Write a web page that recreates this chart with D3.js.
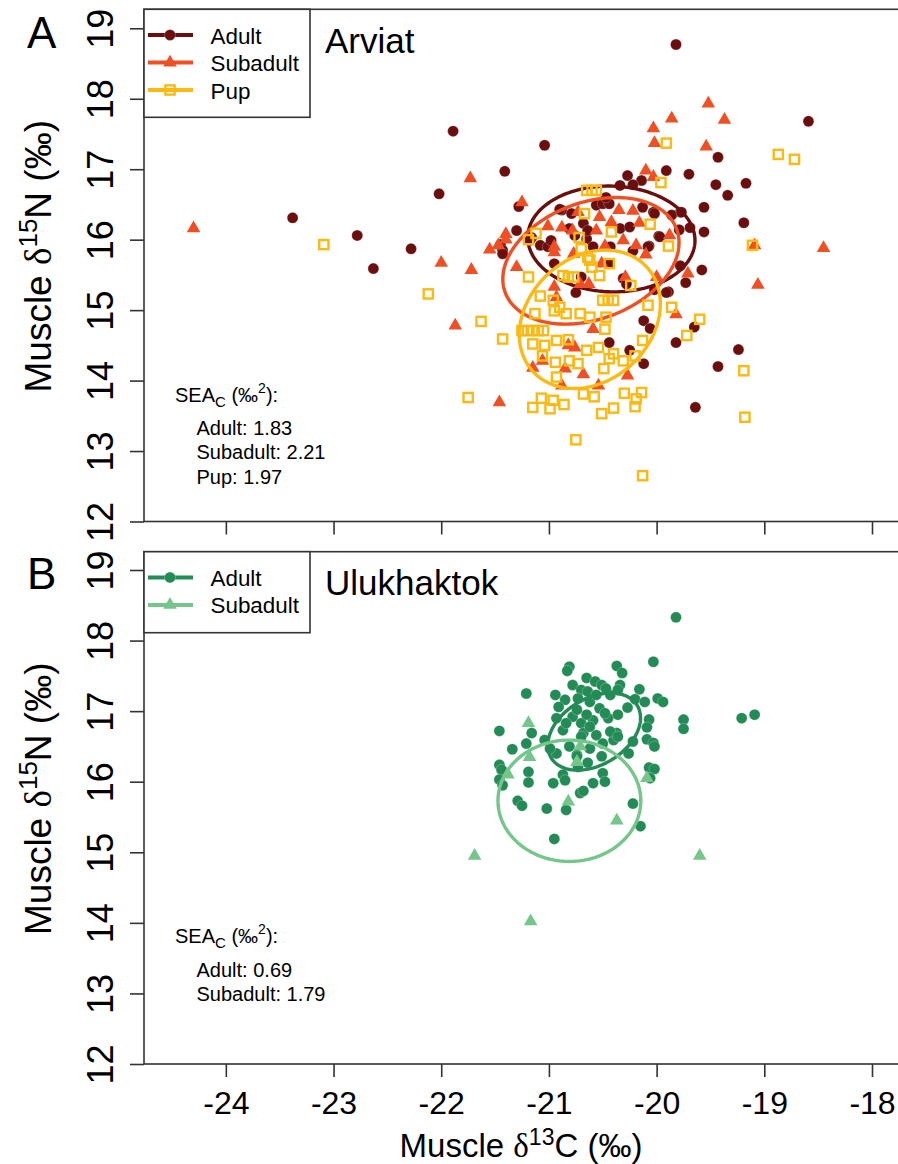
<!DOCTYPE html>
<html>
<head>
<meta charset="utf-8">
<script src="https://cdn.jsdelivr.net/npm/d3@7"></script>
<style>
  html, body { margin: 0; padding: 0; background: #fff; }
  svg { display: block; }
</style>
</head>
<body>
<svg id="chart"></svg>
<script>
// ---- data ----
const xTicks = [-24, -23, -22, -21, -20, -19, -18];
const yTicks = [12, 13, 14, 15, 16, 17, 18, 19];

const groupsA = ["Adult", "Subadult", "Pup"];
const groupsB = ["Adult", "Subadult"];

// Arviat, [d13C, d15N]
const arviatAdult = [
  [-19.82,18.77],[-21.89,17.54],[-21.04,17.34],[-18.59,17.68],[-19.43,17.17],[-21.41,16.97],
  [-22.02,16.65],[-23.38,16.31],[-22.78,16.06],[-22.63,15.59],[-22.28,15.87],[-19.91,16.98],
  [-19.70,16.93],[-19.45,16.78],[-19.17,16.80],[-19.34,16.63],[-19.56,16.46],[-19.19,16.24],
  [-19.69,16.17],[-19.56,16.11],[-19.78,16.39],[-19.98,16.05],[-20.07,15.91],[-19.58,15.57],
  [-19.78,15.63],[-19.73,15.39],[-19.89,15.26],[-19.65,14.76],[-19.82,14.54],[-19.24,14.44],
  [-19.43,14.20],[-19.64,13.62],[-20.12,14.85],[-20.06,14.74],[-20.12,14.24],[-21.28,16.47],
  [-21.30,16.13],[-21.45,15.93],[-20.27,16.91],[-20.14,16.84],[-20.22,16.78],[-20.34,16.77],
  [-20.88,16.42],[-20.56,16.49],[-20.47,16.53],[-20.13,16.46],[-20.03,16.39],[-19.97,16.04],
  [-19.86,16.35],[-19.77,16.39],[-19.79,16.14],[-21.43,15.85],[-21.16,16.03],[-21.08,15.92],
  [-21.01,15.90],[-20.76,16.06],[-20.65,16.01],[-20.34,16.16],[-20.08,15.90],[-20.22,15.84],
  [-20.43,15.90],[-20.95,15.66],[-20.44,15.66],[-20.70,15.47],[-20.75,15.25],[-20.31,15.45],
  [-20.28,15.37],[-20.02,15.29],[-19.91,15.25],[-20.44,14.54],[-20.25,14.43],[-20.90,16.43],
  [-20.79,16.37],[-20.50,16.51],[-20.44,16.51],[-20.02,16.37],[-20.81,16.16],[-20.68,16.23],
  [-20.64,16.13],[-20.25,16.18],[-21.18,15.99],[-21.43,15.80],[-20.98,15.99],[-20.59,15.90],
  [-20.47,16.60]
];
const arviatSubadult = [
  [-24.30,16.16],[-22.00,15.67],[-21.87,14.78],[-19.52,17.93],[-19.86,17.72],[-19.37,17.70],
  [-20.03,17.58],[-20.02,17.37],[-19.54,17.32],[-20.10,16.98],[-20.03,16.89],[-19.09,15.92],
  [-18.45,15.88],[-19.71,15.52],[-19.06,15.36],[-19.82,14.94],[-21.73,16.87],[-21.25,16.53],
  [-21.55,15.86],[-21.40,16.08],[-21.72,15.57],[-20.73,16.39],[-20.53,16.32],[-20.35,16.42],
  [-20.22,16.41],[-20.16,16.24],[-19.88,16.06],[-21.01,16.19],[-20.88,16.17],[-20.95,15.90],
  [-20.78,16.13],[-20.56,16.13],[-20.31,15.99],[-20.19,15.92],[-20.10,15.79],[-20.48,15.91],
  [-20.51,15.66],[-20.95,15.82],[-21.30,15.61],[-21.40,16.00],[-21.47,15.92],[-20.63,15.37],
  [-20.29,15.47],[-20.95,15.33],[-20.93,15.18],[-20.59,14.73],[-21.06,14.28],[-20.82,14.50],
  [-20.76,14.47],[-21.15,14.18],[-20.85,14.17],[-20.68,14.09],[-20.88,13.93],[-20.54,13.93],
  [-20.27,14.07],[-21.46,13.69],[-20.42,16.25],[-20.77,15.80],[-20.00,15.47],[-20.71,15.37]
];
const arviatPup = [
  [-23.09,15.93],[-22.12,15.23],[-19.91,17.37],[-18.87,17.21],[-18.72,17.14],[-19.96,16.81],
  [-19.11,15.92],[-19.89,15.91],[-20.08,15.07],[-19.86,15.04],[-19.60,14.87],[-19.72,14.64],
  [-19.19,14.14],[-19.18,13.48],[-20.13,14.57],[-20.14,13.83],[-20.65,16.70],[-20.60,16.70],
  [-20.56,16.70],[-20.67,16.37],[-20.06,16.22],[-21.12,16.09],[-21.19,16.00],[-20.72,16.03],
  [-20.42,16.11],[-20.62,15.71],[-20.60,15.61],[-20.44,15.66],[-21.19,15.47],[-20.87,15.49],
  [-20.82,15.47],[-20.77,15.47],[-20.53,15.49],[-20.24,15.35],[-21.63,14.84],[-21.08,15.20],
  [-20.96,15.14],[-20.90,15.04],[-20.95,14.99],[-20.84,14.95],[-20.71,14.95],[-20.62,14.90],
  [-20.50,15.14],[-20.45,15.14],[-20.40,15.14],[-20.47,14.90],[-20.48,14.73],[-21.13,14.95],
  [-21.43,14.59],[-21.25,14.71],[-21.20,14.71],[-21.15,14.71],[-21.10,14.71],[-21.05,14.71],
  [-21.15,14.52],[-21.04,14.50],[-21.06,14.35],[-20.93,14.57],[-20.82,14.58],[-20.65,14.43],
  [-20.54,14.47],[-20.40,14.38],[-20.44,14.31],[-20.31,14.28],[-20.20,14.35],[-20.94,14.26],
  [-20.81,14.28],[-20.73,14.24],[-20.49,14.17],[-20.93,14.05],[-20.68,13.81],[-20.58,13.77],
  [-20.30,13.82],[-20.19,13.74],[-20.20,13.63],[-21.75,13.76],[-21.07,13.75],[-20.96,13.72],
  [-21.15,13.62],[-20.99,13.60],[-20.86,13.66],[-20.51,13.53],[-20.40,13.61],[-20.75,13.16],
  [-20.13,12.65],[-20.70,15.87],[-20.64,15.75]
];

// Ulukhaktok
const ulukAdult = [
  [-19.82,18.33],[-20.03,17.70],[-20.81,17.63],[-20.83,17.57],[-20.37,17.64],[-20.32,17.54],
  [-21.21,17.25],[-20.65,17.47],[-20.57,17.42],[-20.51,17.37],[-20.78,17.37],[-20.70,17.30],
  [-20.34,17.37],[-20.16,17.31],[-20.94,17.23],[-20.85,17.16],[-20.64,17.28],[-20.73,17.18],
  [-20.43,17.23],[-20.36,17.30],[-19.99,17.18],[-19.94,17.13],[-20.20,17.17],[-20.11,17.13],
  [-20.91,17.06],[-20.62,17.13],[-20.53,17.04],[-20.27,17.05],[-19.75,16.88],[-19.75,16.75],
  [-19.21,16.90],[-19.09,16.95],[-21.46,16.72],[-20.93,16.90],[-20.78,16.92],[-20.70,16.83],
  [-20.59,16.87],[-20.45,16.90],[-20.36,16.95],[-20.07,16.88],[-20.09,16.77],[-20.87,16.73],
  [-20.68,16.69],[-20.56,16.66],[-20.37,16.69],[-21.16,16.69],[-21.21,16.54],[-21.04,16.59],
  [-20.50,16.54],[-20.40,16.59],[-20.09,16.60],[-20.03,16.55],[-20.02,16.50],[-20.22,16.57],
  [-21.34,16.46],[-20.93,16.40],[-20.74,16.38],[-20.62,16.47],[-20.26,16.40],[-21.46,16.24],
  [-21.44,16.17],[-21.46,16.03],[-21.43,15.95],[-21.19,16.14],[-21.19,15.99],[-20.87,16.10],
  [-20.85,16.02],[-20.64,16.27],[-20.50,16.12],[-20.48,16.00],[-20.07,16.20],[-20.02,16.18],
  [-20.06,16.05],[-20.96,15.98],[-20.59,15.98],[-20.71,15.84],[-20.68,15.87],[-21.29,15.73],
  [-21.25,15.66],[-21.02,15.62],[-20.84,15.60],[-20.22,15.69],[-20.15,15.37],[-20.95,15.19],
  [-20.74,17.02],[-20.65,16.95],[-20.48,16.97],[-20.62,16.78],[-20.43,16.71],[-20.36,16.64],
  [-20.70,16.64],[-20.81,16.50],[-20.74,16.36],[-20.51,16.36],[-20.73,16.21],[-20.84,16.83],
  [-20.56,17.23],[-20.47,17.32],[-20.99,16.47]
];
const ulukSubadult = [
  [-21.19,16.83],[-21.18,16.35],[-21.38,16.10],[-20.71,16.50],[-20.74,16.28],[-20.09,16.05],
  [-20.82,15.72],[-20.37,15.45],[-21.69,14.95],[-19.60,14.95],[-21.17,14.02]
];

// standard ellipses: centre, semi-axes (permil), rotation (deg)
const ellipsesA = [
  { group: "Adult",    cx: -20.42, cy: 16.01, a: 0.78, b: 0.747, angle: -20 },
  { group: "Subadult", cx: -20.61, cy: 15.70, a: 0.98, b: 0.718, angle: 54 },
  { group: "Pup",      cx: -20.62, cy: 14.87, a: 1.00, b: 0.627, angle: 76 }
];
const ellipsesB = [
  { group: "Adult",    cx: -20.58, cy: 16.71, a: 0.586, b: 0.375, angle: 62 },
  { group: "Subadult", cx: -20.81, cy: 15.73, a: 0.86,  b: 0.663, angle: 90 }
];

const seaA = ["Adult: 1.83", "Subadult: 2.21", "Pup: 1.97"];
const seaB = ["Adult: 0.69", "Subadult: 1.79"];

// ---- drawing ----
const W = 898, H = 1164;
const FONT = "'Liberation Sans', Arial, Helvetica, sans-serif";
const SERIF = "'Liberation Serif', 'DejaVu Serif', serif";
const AXIS_COL = "#333";

const colors = {
  A: { Adult: "#6b0e0e", Subadult: "#f04e23", Pup: "#fdb913" },
  B: { Adult: "#238b55", Subadult: "#74c68a" }
};
const shapes = { Adult: "circle", Subadult: "triangle", Pup: "square" };

const svg = d3.select("#chart").attr("width", W).attr("height", H)
  .style("font-family", FONT);

const x = d3.scaleLinear().domain([-24.76, -17.74]).range([144, 900]);

const panels = [
  { key: "A", site: "Arviat", top: 9.3, yRange: [521.5, 28.3], groups: groupsA,
    data: { Adult: arviatAdult, Subadult: arviatSubadult, Pup: arviatPup },
    ellipses: ellipsesA, sea: seaA, seaY: 401.7, labels: false },
  { key: "B", site: "Ulukhaktok", top: 551.7, yRange: [1064, 570], groups: groupsB,
    data: { Adult: ulukAdult, Subadult: ulukSubadult },
    ellipses: ellipsesB, sea: seaB, seaY: 943.3, labels: true }
];

function drawMarker(g, shape, color, px, py) {
  if (shape === "circle") {
    g.append("circle").attr("cx", px).attr("cy", py).attr("r", 5.5)
      .attr("fill", color).attr("stroke", "#fff").attr("stroke-opacity", 0.35).attr("stroke-width", 0.7);
  } else if (shape === "triangle") {
    g.append("path").attr("transform", `translate(${px},${py})`)
      .attr("d", d3.symbol(d3.symbolTriangle, 80)()).attr("fill", color);
  } else {
    g.append("rect").attr("x", px - 4.6).attr("y", py - 4.6).attr("width", 9.2).attr("height", 9.2)
      .attr("fill", "none").attr("stroke", color).attr("stroke-width", 2.4);
  }
}

function ellipsePoints(e) {
  const t = e.angle * Math.PI / 180;
  return d3.range(0, 2 * Math.PI, Math.PI / 90).map(u => [
    e.cx + e.a * Math.cos(u) * Math.cos(t) - e.b * Math.sin(u) * Math.sin(t),
    e.cy + e.a * Math.cos(u) * Math.sin(t) + e.b * Math.sin(u) * Math.cos(t)
  ]);
}

panels.forEach(p => {
  const y = d3.scaleLinear().domain([12, 19]).range(p.yRange);
  const bottom = p.yRange[0];
  const g = svg.append("g");
  const pal = colors[p.key];

  // points + ellipses, group by group
  const line = d3.line().x(d => x(d[0])).y(d => y(d[1])).curve(d3.curveLinearClosed);
  p.groups.forEach(name => {
    const mg = g.append("g");
    p.data[name].forEach(d => drawMarker(mg, shapes[name], pal[name], x(d[0]), y(d[1])));
    const e = p.ellipses.find(e => e.group === name);
    g.append("path").attr("d", line(ellipsePoints(e)))
      .attr("fill", "none").attr("stroke", pal[name]).attr("stroke-width", 3.4);
  });

  // frame
  g.append("rect").attr("x", 144).attr("y", p.top).attr("width", 900 - 144).attr("height", bottom - p.top)
    .attr("fill", "none").attr("stroke", AXIS_COL).attr("stroke-width", 1.6);

  // x axis
  const xa = g.append("g").attr("transform", `translate(0,${bottom})`)
    .call(d3.axisBottom(x).tickValues(xTicks).tickSize(13).tickSizeOuter(0).tickPadding(14));
  xa.select(".domain").remove();
  xa.selectAll("line").attr("stroke", AXIS_COL).attr("stroke-width", 1.6);
  xa.selectAll("text").attr("font-size", 32).attr("font-family", FONT).attr("fill", "#000")
    .text(d => p.labels ? String(d) : "");

  // y axis
  const ya = g.append("g").attr("transform", "translate(144,0)")
    .call(d3.axisLeft(y).tickValues(yTicks).tickSize(14).tickSizeOuter(0).tickFormat(d3.format("d")));
  ya.select(".domain").remove();
  ya.selectAll("line").attr("stroke", AXIS_COL).attr("stroke-width", 1.6);
  ya.selectAll("text").attr("x", null).attr("dy", null).attr("y", 0)
    .attr("text-anchor", "middle").attr("transform", "translate(-31,0) rotate(-90)")
    .attr("font-size", 36).attr("font-family", FONT).attr("fill", "#000");

  // y title, starts just above the bottom of the frame and reads upward
  const yt = g.append("text").attr("transform", `translate(51,${bottom - 129}) rotate(-90)`)
    .attr("text-anchor", "start").attr("font-size", 37);
  yt.append("tspan").text("Muscle ");
  yt.append("tspan").attr("font-family", SERIF).text("δ");
  yt.append("tspan").attr("font-size", 26).attr("dy", -14).text("15");
  yt.append("tspan").attr("dy", 14).text("N (‰)");

  // panel letter
  g.append("text").attr("x", 27).attr("y", p.key === "A" ? 48 : 589).attr("font-size", 44).text(p.key);

  // legend
  const lh = p.groups.length === 3 ? 108 : 81;
  g.append("rect").attr("x", 144).attr("y", p.top).attr("width", 166).attr("height", lh)
    .attr("fill", "#fff").attr("stroke", AXIS_COL).attr("stroke-width", 1.6);
  p.groups.forEach((name, i) => {
    const ry = p.top + 25.7 + i * 27.5;
    g.append("line").attr("x1", 148).attr("x2", 193).attr("y1", ry).attr("y2", ry)
      .attr("stroke", pal[name]).attr("stroke-width", 4);
    drawMarker(g, shapes[name], pal[name], 170, ry);
    g.append("text").attr("x", 210.5).attr("y", ry + 8.5).attr("font-size", 22.4).text(name);
  });

  // site name
  g.append("text").attr("x", 325).attr("y", p.top + 43.5).attr("font-size", 35).text(p.site);

  // SEA_C block
  const st = g.append("text").attr("x", 175).attr("y", p.seaY).attr("font-size", 20);
  st.append("tspan").text("SEA");
  st.append("tspan").attr("font-size", 15).attr("dy", 5).text("C");
  st.append("tspan").attr("dy", -5).text(" (‰");
  st.append("tspan").attr("font-size", 14).attr("dy", -9).text("2");
  st.append("tspan").attr("dy", 9).text("):");
  p.sea.forEach((s, i) => {
    g.append("text").attr("x", 196.5).attr("y", p.seaY + 33.5 + i * 24.2).attr("font-size", 20).text(s);
  });
});

// x title
const xt = svg.append("text").attr("x", 521).attr("y", 1157).attr("text-anchor", "middle").attr("font-size", 33);
xt.append("tspan").text("Muscle ");
xt.append("tspan").attr("font-family", SERIF).text("δ");
xt.append("tspan").attr("font-size", 23).attr("dy", -12).text("13");
xt.append("tspan").attr("dy", 12).text("C (‰)");
</script>
</body>
</html>
